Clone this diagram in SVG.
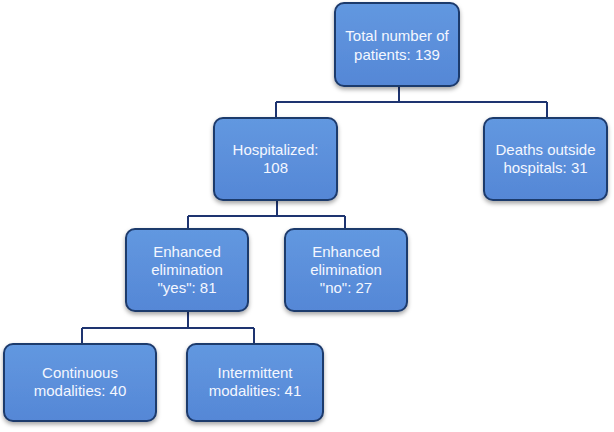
<svg xmlns="http://www.w3.org/2000/svg" width="614" height="432" viewBox="0 0 614 432">
<style>
.box{fill:url(#g);stroke:#1E3A6C;stroke-width:2;filter:url(#sh)}
.t{font-family:"Liberation Sans",Arial,sans-serif;font-size:15px;fill:#F4F7FF;text-anchor:middle}
.c{fill:none;stroke:#1E3470;stroke-width:2}
</style>
<defs>
<linearGradient id="g" x1="0" y1="0" x2="0" y2="1">
<stop offset="0" stop-color="#6298E0"/>
<stop offset="1" stop-color="#5587D6"/>
</linearGradient>
<filter id="sh" x="-10%" y="-10%" width="120%" height="130%">
<feDropShadow dx="0" dy="2.5" stdDeviation="2" flood-color="#000" flood-opacity="0.35"/>
</filter>
</defs>
<rect width="614" height="432" fill="#fff"/>
<g id="connectors">
<path class="c" d="M399 86V102M276 102H547M276 102V118M547 102V118"/>
<path class="c" d="M277 200V216M188 216H345M188 216V229M345 216V229"/>
<path class="c" d="M188 311V328M82 328H254M82 328V344M254 328V344"/>
</g>
<g id="total">
<rect class="box" x="335" y="3" width="124" height="83" rx="9"/>
<text class="t" x="397" y="41">Total number of</text>
<text class="t" x="397" y="60">patients: 139</text>
</g>
<g id="hospitalized">
<rect class="box" x="214" y="118" width="123" height="82" rx="9"/>
<text class="t" x="275.5" y="155">Hospitalized:</text>
<text class="t" x="275.5" y="173">108</text>
</g>
<g id="deaths">
<rect class="box" x="484" y="118" width="123" height="82" rx="9"/>
<text class="t" x="545.5" y="155">Deaths outside</text>
<text class="t" x="545.5" y="173">hospitals: 31</text>
</g>
<g id="yes">
<rect class="box" x="126" y="229" width="122" height="82" rx="9"/>
<text class="t" x="187" y="257">Enhanced</text>
<text class="t" x="187" y="275">elimination</text>
<text class="t" x="187" y="293">"yes": 81</text>
</g>
<g id="no">
<rect class="box" x="285" y="229" width="122" height="82" rx="9"/>
<text class="t" x="346" y="257">Enhanced</text>
<text class="t" x="346" y="275">elimination</text>
<text class="t" x="346" y="293">"no": 27</text>
</g>
<g id="continuous">
<rect class="box" x="4" y="344" width="152" height="77" rx="9"/>
<text class="t" x="80" y="378">Continuous</text>
<text class="t" x="80" y="396">modalities: 40</text>
</g>
<g id="intermittent">
<rect class="box" x="187" y="344" width="136" height="77" rx="9"/>
<text class="t" x="255" y="378">Intermittent</text>
<text class="t" x="255" y="396">modalities: 41</text>
</g>
</svg>
